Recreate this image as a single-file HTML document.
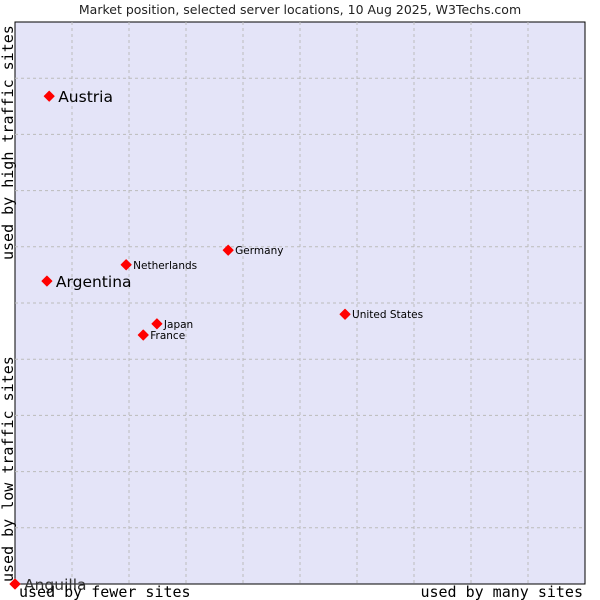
<!DOCTYPE html>
<html><head><meta charset="utf-8"><style>
body{margin:0;background:#fff;width:600px;height:600px;overflow:hidden}
svg{display:block}
</style></head><body>
<svg id="chart" width="600" height="600">
<text x="300" y="14" text-anchor="middle" font-family="DejaVu Sans, sans-serif" font-size="12.5" fill="#222">Market position, selected server locations, 10 Aug 2025, W3Techs.com</text>
<rect x="15" y="22" width="570" height="562" fill="#e4e4f8" stroke="#000" stroke-width="1"/>
<g id="grid"></g>
<g id="points"></g>
<text x="19" y="597" font-family="DejaVu Sans Mono, monospace" font-size="15" fill="#000">used by fewer sites</text>
<text x="583" y="597" text-anchor="end" font-family="DejaVu Sans Mono, monospace" font-size="15" fill="#000">used by many sites</text>
<text transform="translate(13,582) rotate(-90)" font-family="DejaVu Sans Mono, monospace" font-size="15" fill="#000">used by low traffic sites</text>
<text transform="translate(13,260) rotate(-90)" font-family="DejaVu Sans Mono, monospace" font-size="15" fill="#000">used by high traffic sites</text>
</svg>
<script>
const names=["Austria","Argentina","Netherlands","Germany","United States","Japan","France","Anguilla"];
const xVals=[0.6,0.56,1.95,3.74,5.79,2.49,2.25,0];
const yVals=[8.68,5.39,5.68,5.94,4.80,4.63,4.43,0];
const big=[true,true,false,false,false,false,false,true];
const X0=15,X1=585,Y0=584,Y1=22;
const sx=v=>X0+v*(X1-X0)/10, sy=v=>Y0-v*(Y0-Y1)/10;
const ns="http://www.w3.org/2000/svg";
const g=document.getElementById('grid');
for(let i=1;i<10;i++){
 const l=document.createElementNS(ns,'line');
 
 
 l.setAttribute('x1',sx(i));l.setAttribute('x2',sx(i));l.setAttribute('y1',Y1);l.setAttribute('y2',Y0);
 l.setAttribute('stroke','#bbb');l.setAttribute('stroke-dasharray','3,3');g.appendChild(l);
 const m=document.createElementNS(ns,'line');
 
 
 m.setAttribute('y1',sy(i));m.setAttribute('y2',sy(i));m.setAttribute('x1',X0);m.setAttribute('x2',X1);
 m.setAttribute('stroke','#bbb');m.setAttribute('stroke-dasharray','3,3');g.appendChild(m);
}
const p=document.getElementById('points');
names.forEach((n,i)=>{
 const x=sx(xVals[i]),y=sy(yVals[i]);
 const d=document.createElementNS(ns,'path');
 
 
 d.setAttribute('d',`M${x-5} ${y}L${x} ${y-5}L${x+5} ${y}L${x} ${y+5}Z`);
 d.setAttribute('fill','#f00');d.setAttribute('stroke','#f00');d.setAttribute('stroke-width','1');d.setAttribute('stroke-linejoin','round');p.appendChild(d);
 const t=document.createElementNS(ns,'text');
 
 
 t.setAttribute('x',x+(big[i]?9:7));t.setAttribute('y',y+(big[i]?6:4));
 t.setAttribute('font-family','DejaVu Sans, sans-serif');
 t.setAttribute('font-size',big[i]?15.5:10.5);
 t.setAttribute('fill',n==="Anguilla"?'#333':'#000');
 t.textContent=n;p.appendChild(t);
});
</script>
</body></html>
